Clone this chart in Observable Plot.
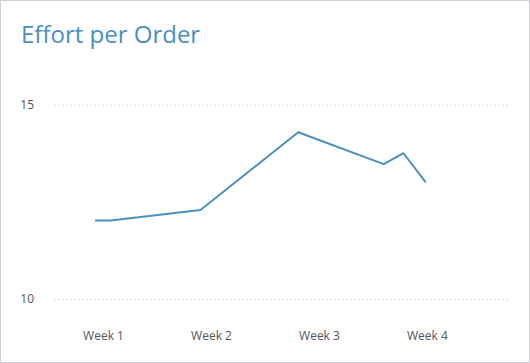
<!DOCTYPE html>
<html>
<head>
<meta charset="utf-8">
<script src="https://cdn.jsdelivr.net/npm/d3@7"></script>
<script src="https://cdn.jsdelivr.net/npm/@observablehq/plot@0.6"></script>
<style>
  body { margin: 0; background: #fff; font-family: "Open Sans", sans-serif; }
  #box { position: relative; width: 530px; height: 363px; box-sizing: border-box; border: 1px solid #cfcfd6; overflow: hidden; background: #fff; }
  #title { position: absolute; left: 20px; top: 21px; font-size: 24px; line-height: 24px; font-weight: 400; color: #4a90bf; font-family: "Open Sans", sans-serif; white-space: nowrap; }
  #chart svg { display: block; }
</style>
</head>
<body>
<div id="box">
  <div id="chart"></div>
  <div id="title">Effort per Order</div>
</div>
<script>
// Data (x in week units, y = effort per order)
const weekPos = [0.929, 1.065, 1.898, 2.803, 3.595, 3.778, 3.979];
const effort = [12.03, 12.03, 12.30, 14.30, 13.48, 13.76, 13.03];
const weekTicks = [1, 2, 3, 4];
const weekLabels = ["Week 1", "Week 2", "Week 3", "Week 4"];
const yTicks = [10, 15];

const data = weekPos.map((w, i) => ({x: w, y: effort[i]}));

const plot = Plot.plot({
  width: 528,
  height: 361,
  marginLeft: 53,
  marginRight: 19,
  marginTop: 103.5,
  marginBottom: 63,
  style: {background: "transparent", fontFamily: "Open Sans, sans-serif", fontSize: "12px", color: "#555561"},
  x: {type: "linear", domain: [0.546, 4.769]},
  y: {domain: [10, 15]},
  marks: [
    Plot.ruleY(yTicks, {stroke: "#dcdce0", strokeDasharray: "2,2", strokeWidth: 1}),
    Plot.axisY(yTicks, {tickSize: 0, tickPadding: 20.5, label: null, fill: "#555561", fontSize: 12}),
    Plot.axisX(weekTicks, {tickSize: 0, tickPadding: 32, label: null, fill: "#555561", fontSize: 12,
      tickFormat: d => weekLabels[weekTicks.indexOf(d)]}),
    Plot.line(data, {x: "x", y: "y", stroke: "#4a90bf", strokeWidth: 2})
  ]
});
document.getElementById("chart").appendChild(plot);
</script>
</body>
</html>
